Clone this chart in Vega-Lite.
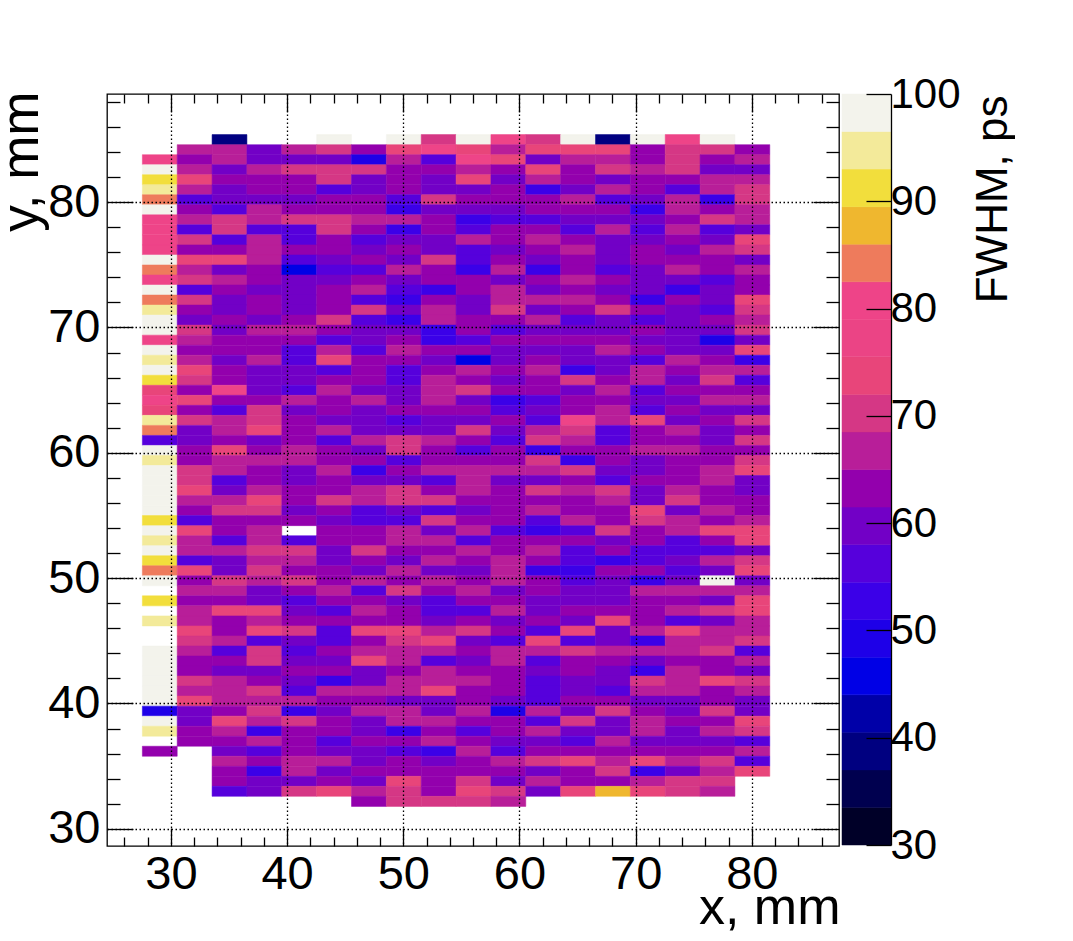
{"$schema":"https://vega.github.io/schema/vega-lite/v6.json","background":"white","padding":{"left":-6,"top":73,"right":0,"bottom":0},"spacing":0,"config":{"view":{"stroke":"black","strokeWidth":1.3},"axis":{"grid":false,"labelFont":"Liberation Sans","titleFont":"Liberation Sans","labelColor":"black","titleColor":"black","tickColor":"black","tickWidth":1.3,"domain":false,"titleFontWeight":"normal"}},"datasets":{"cells":[
{"x":35,"y":85,"v":39},{"x":44,"y":85,"v":98},{"x":50,"y":85,"v":98},{"x":53,"y":85,"v":70},{"x":56,"y":85,"v":98},{"x":59,"y":85,"v":80},{"x":62,"y":85,"v":70},{"x":65,"y":85,"v":98},{"x":68,"y":85,"v":39},{"x":71,"y":85,"v":98},{"x":74,"y":85,"v":80},{"x":77,"y":85,"v":98},
{"x":32,"y":84.2,"v":67},{"x":35,"y":84.2,"v":67},{"x":38,"y":84.2,"v":60},{"x":41,"y":84.2,"v":67},{"x":44,"y":84.2,"v":70},{"x":47,"y":84.2,"v":63},{"x":50,"y":84.2,"v":74},{"x":53,"y":84.2,"v":80},{"x":56,"y":84.2,"v":74},{"x":59,"y":84.2,"v":67},{"x":62,"y":84.2,"v":74},{"x":65,"y":84.2,"v":74},{"x":68,"y":84.2,"v":74},{"x":71,"y":84.2,"v":63},{"x":74,"y":84.2,"v":70},{"x":77,"y":84.2,"v":70},{"x":80,"y":84.2,"v":63},
{"x":29,"y":83.4,"v":80},{"x":32,"y":83.4,"v":63},{"x":35,"y":83.4,"v":67},{"x":38,"y":83.4,"v":60},{"x":41,"y":83.4,"v":60},{"x":44,"y":83.4,"v":60},{"x":47,"y":83.4,"v":49},{"x":50,"y":83.4,"v":67},{"x":53,"y":83.4,"v":56},{"x":56,"y":83.4,"v":80},{"x":59,"y":83.4,"v":74},{"x":62,"y":83.4,"v":60},{"x":65,"y":83.4,"v":67},{"x":68,"y":83.4,"v":67},{"x":71,"y":83.4,"v":63},{"x":74,"y":83.4,"v":70},{"x":77,"y":83.4,"v":63},{"x":80,"y":83.4,"v":67},
{"x":29,"y":82.6,"v":98},{"x":32,"y":82.6,"v":67},{"x":35,"y":82.6,"v":60},{"x":38,"y":82.6,"v":67},{"x":41,"y":82.6,"v":70},{"x":44,"y":82.6,"v":70},{"x":47,"y":82.6,"v":70},{"x":50,"y":82.6,"v":63},{"x":53,"y":82.6,"v":63},{"x":56,"y":82.6,"v":67},{"x":59,"y":82.6,"v":63},{"x":62,"y":82.6,"v":74},{"x":65,"y":82.6,"v":63},{"x":68,"y":82.6,"v":70},{"x":71,"y":82.6,"v":67},{"x":74,"y":82.6,"v":70},{"x":77,"y":82.6,"v":60},{"x":80,"y":82.6,"v":60},
{"x":29,"y":81.8,"v":91},{"x":32,"y":81.8,"v":74},{"x":35,"y":81.8,"v":63},{"x":38,"y":81.8,"v":63},{"x":41,"y":81.8,"v":63},{"x":44,"y":81.8,"v":70},{"x":47,"y":81.8,"v":60},{"x":50,"y":81.8,"v":63},{"x":53,"y":81.8,"v":60},{"x":56,"y":81.8,"v":74},{"x":59,"y":81.8,"v":60},{"x":62,"y":81.8,"v":67},{"x":65,"y":81.8,"v":63},{"x":68,"y":81.8,"v":60},{"x":71,"y":81.8,"v":63},{"x":74,"y":81.8,"v":63},{"x":77,"y":81.8,"v":67},{"x":80,"y":81.8,"v":67},
{"x":29,"y":81,"v":95},{"x":32,"y":81,"v":67},{"x":35,"y":81,"v":60},{"x":38,"y":81,"v":63},{"x":41,"y":81,"v":63},{"x":44,"y":81,"v":56},{"x":47,"y":81,"v":60},{"x":50,"y":81,"v":63},{"x":53,"y":81,"v":60},{"x":56,"y":81,"v":60},{"x":59,"y":81,"v":63},{"x":62,"y":81,"v":53},{"x":65,"y":81,"v":60},{"x":68,"y":81,"v":67},{"x":71,"y":81,"v":63},{"x":74,"y":81,"v":56},{"x":77,"y":81,"v":67},{"x":80,"y":81,"v":70},
{"x":29,"y":80.2,"v":84},{"x":32,"y":80.2,"v":56},{"x":35,"y":80.2,"v":60},{"x":38,"y":80.2,"v":60},{"x":41,"y":80.2,"v":60},{"x":44,"y":80.2,"v":63},{"x":47,"y":80.2,"v":63},{"x":50,"y":80.2,"v":56},{"x":53,"y":80.2,"v":70},{"x":56,"y":80.2,"v":63},{"x":59,"y":80.2,"v":63},{"x":62,"y":80.2,"v":63},{"x":65,"y":80.2,"v":67},{"x":68,"y":80.2,"v":56},{"x":71,"y":80.2,"v":60},{"x":74,"y":80.2,"v":67},{"x":77,"y":80.2,"v":53},{"x":80,"y":80.2,"v":70},
{"x":29,"y":79.4,"v":98},{"x":32,"y":79.4,"v":63},{"x":35,"y":79.4,"v":56},{"x":38,"y":79.4,"v":67},{"x":41,"y":79.4,"v":63},{"x":44,"y":79.4,"v":63},{"x":47,"y":79.4,"v":63},{"x":50,"y":79.4,"v":53},{"x":53,"y":79.4,"v":60},{"x":56,"y":79.4,"v":60},{"x":59,"y":79.4,"v":60},{"x":62,"y":79.4,"v":63},{"x":65,"y":79.4,"v":63},{"x":68,"y":79.4,"v":63},{"x":71,"y":79.4,"v":53},{"x":74,"y":79.4,"v":67},{"x":77,"y":79.4,"v":63},{"x":80,"y":79.4,"v":67},
{"x":29,"y":78.6,"v":80},{"x":32,"y":78.6,"v":67},{"x":35,"y":78.6,"v":70},{"x":38,"y":78.6,"v":67},{"x":41,"y":78.6,"v":70},{"x":44,"y":78.6,"v":70},{"x":47,"y":78.6,"v":67},{"x":50,"y":78.6,"v":67},{"x":53,"y":78.6,"v":63},{"x":56,"y":78.6,"v":53},{"x":59,"y":78.6,"v":56},{"x":62,"y":78.6,"v":56},{"x":65,"y":78.6,"v":60},{"x":68,"y":78.6,"v":60},{"x":71,"y":78.6,"v":60},{"x":74,"y":78.6,"v":63},{"x":77,"y":78.6,"v":70},{"x":80,"y":78.6,"v":67},
{"x":29,"y":77.8,"v":80},{"x":32,"y":77.8,"v":56},{"x":35,"y":77.8,"v":70},{"x":38,"y":77.8,"v":56},{"x":41,"y":77.8,"v":56},{"x":44,"y":77.8,"v":70},{"x":47,"y":77.8,"v":63},{"x":50,"y":77.8,"v":53},{"x":53,"y":77.8,"v":63},{"x":56,"y":77.8,"v":56},{"x":59,"y":77.8,"v":63},{"x":62,"y":77.8,"v":63},{"x":65,"y":77.8,"v":56},{"x":68,"y":77.8,"v":67},{"x":71,"y":77.8,"v":56},{"x":74,"y":77.8,"v":67},{"x":77,"y":77.8,"v":56},{"x":80,"y":77.8,"v":60},
{"x":29,"y":77,"v":80},{"x":32,"y":77,"v":70},{"x":35,"y":77,"v":56},{"x":38,"y":77,"v":67},{"x":41,"y":77,"v":56},{"x":44,"y":77,"v":63},{"x":47,"y":77,"v":56},{"x":50,"y":77,"v":60},{"x":53,"y":77,"v":60},{"x":56,"y":77,"v":67},{"x":59,"y":77,"v":63},{"x":62,"y":77,"v":67},{"x":65,"y":77,"v":63},{"x":68,"y":77,"v":60},{"x":71,"y":77,"v":60},{"x":74,"y":77,"v":63},{"x":77,"y":77,"v":60},{"x":80,"y":77,"v":74},
{"x":29,"y":76.2,"v":80},{"x":32,"y":76.2,"v":63},{"x":35,"y":76.2,"v":63},{"x":38,"y":76.2,"v":67},{"x":41,"y":76.2,"v":63},{"x":44,"y":76.2,"v":63},{"x":47,"y":76.2,"v":60},{"x":50,"y":76.2,"v":63},{"x":53,"y":76.2,"v":60},{"x":56,"y":76.2,"v":56},{"x":59,"y":76.2,"v":60},{"x":62,"y":76.2,"v":63},{"x":65,"y":76.2,"v":67},{"x":68,"y":76.2,"v":60},{"x":71,"y":76.2,"v":63},{"x":74,"y":76.2,"v":60},{"x":77,"y":76.2,"v":67},{"x":80,"y":76.2,"v":70},
{"x":29,"y":75.4,"v":98},{"x":32,"y":75.4,"v":74},{"x":35,"y":75.4,"v":74},{"x":38,"y":75.4,"v":67},{"x":41,"y":75.4,"v":56},{"x":44,"y":75.4,"v":60},{"x":47,"y":75.4,"v":63},{"x":50,"y":75.4,"v":60},{"x":53,"y":75.4,"v":70},{"x":56,"y":75.4,"v":56},{"x":59,"y":75.4,"v":63},{"x":62,"y":75.4,"v":60},{"x":65,"y":75.4,"v":63},{"x":68,"y":75.4,"v":60},{"x":71,"y":75.4,"v":63},{"x":74,"y":75.4,"v":63},{"x":77,"y":75.4,"v":63},{"x":80,"y":75.4,"v":60},
{"x":29,"y":74.6,"v":84},{"x":32,"y":74.6,"v":67},{"x":35,"y":74.6,"v":60},{"x":38,"y":74.6,"v":63},{"x":41,"y":74.6,"v":46},{"x":44,"y":74.6,"v":56},{"x":47,"y":74.6,"v":56},{"x":50,"y":74.6,"v":67},{"x":53,"y":74.6,"v":63},{"x":56,"y":74.6,"v":53},{"x":59,"y":74.6,"v":67},{"x":62,"y":74.6,"v":53},{"x":65,"y":74.6,"v":63},{"x":68,"y":74.6,"v":56},{"x":71,"y":74.6,"v":60},{"x":74,"y":74.6,"v":67},{"x":77,"y":74.6,"v":63},{"x":80,"y":74.6,"v":67},
{"x":29,"y":73.8,"v":80},{"x":32,"y":73.8,"v":70},{"x":35,"y":73.8,"v":67},{"x":38,"y":73.8,"v":63},{"x":41,"y":73.8,"v":60},{"x":44,"y":73.8,"v":60},{"x":47,"y":73.8,"v":63},{"x":50,"y":73.8,"v":60},{"x":53,"y":73.8,"v":63},{"x":56,"y":73.8,"v":63},{"x":59,"y":73.8,"v":60},{"x":62,"y":73.8,"v":63},{"x":65,"y":73.8,"v":67},{"x":68,"y":73.8,"v":63},{"x":71,"y":73.8,"v":60},{"x":74,"y":73.8,"v":60},{"x":77,"y":73.8,"v":56},{"x":80,"y":73.8,"v":63},
{"x":29,"y":73,"v":98},{"x":32,"y":73,"v":56},{"x":35,"y":73,"v":63},{"x":38,"y":73,"v":60},{"x":41,"y":73,"v":60},{"x":44,"y":73,"v":63},{"x":47,"y":73,"v":67},{"x":50,"y":73,"v":56},{"x":53,"y":73,"v":53},{"x":56,"y":73,"v":63},{"x":59,"y":73,"v":67},{"x":62,"y":73,"v":60},{"x":65,"y":73,"v":63},{"x":68,"y":73,"v":60},{"x":71,"y":73,"v":60},{"x":74,"y":73,"v":53},{"x":77,"y":73,"v":60},{"x":80,"y":73,"v":63},
{"x":29,"y":72.2,"v":84},{"x":32,"y":72.2,"v":70},{"x":35,"y":72.2,"v":60},{"x":38,"y":72.2,"v":63},{"x":41,"y":72.2,"v":60},{"x":44,"y":72.2,"v":63},{"x":47,"y":72.2,"v":56},{"x":50,"y":72.2,"v":53},{"x":53,"y":72.2,"v":63},{"x":56,"y":72.2,"v":60},{"x":59,"y":72.2,"v":67},{"x":62,"y":72.2,"v":67},{"x":65,"y":72.2,"v":67},{"x":68,"y":72.2,"v":63},{"x":71,"y":72.2,"v":53},{"x":74,"y":72.2,"v":63},{"x":77,"y":72.2,"v":60},{"x":80,"y":72.2,"v":74},
{"x":29,"y":71.4,"v":95},{"x":32,"y":71.4,"v":63},{"x":35,"y":71.4,"v":60},{"x":38,"y":71.4,"v":63},{"x":41,"y":71.4,"v":60},{"x":44,"y":71.4,"v":63},{"x":47,"y":71.4,"v":70},{"x":50,"y":71.4,"v":60},{"x":53,"y":71.4,"v":67},{"x":56,"y":71.4,"v":60},{"x":59,"y":71.4,"v":70},{"x":62,"y":71.4,"v":60},{"x":65,"y":71.4,"v":63},{"x":68,"y":71.4,"v":70},{"x":71,"y":71.4,"v":63},{"x":74,"y":71.4,"v":60},{"x":77,"y":71.4,"v":56},{"x":80,"y":71.4,"v":70},
{"x":29,"y":70.6,"v":98},{"x":32,"y":70.6,"v":60},{"x":35,"y":70.6,"v":63},{"x":38,"y":70.6,"v":60},{"x":41,"y":70.6,"v":63},{"x":44,"y":70.6,"v":70},{"x":47,"y":70.6,"v":56},{"x":50,"y":70.6,"v":53},{"x":53,"y":70.6,"v":67},{"x":56,"y":70.6,"v":63},{"x":59,"y":70.6,"v":63},{"x":62,"y":70.6,"v":67},{"x":65,"y":70.6,"v":56},{"x":68,"y":70.6,"v":60},{"x":71,"y":70.6,"v":56},{"x":74,"y":70.6,"v":60},{"x":77,"y":70.6,"v":63},{"x":80,"y":70.6,"v":67},
{"x":29,"y":69.8,"v":98},{"x":32,"y":69.8,"v":70},{"x":35,"y":69.8,"v":60},{"x":38,"y":69.8,"v":67},{"x":41,"y":69.8,"v":67},{"x":44,"y":69.8,"v":63},{"x":47,"y":69.8,"v":60},{"x":50,"y":69.8,"v":60},{"x":53,"y":69.8,"v":53},{"x":56,"y":69.8,"v":63},{"x":59,"y":69.8,"v":56},{"x":62,"y":69.8,"v":60},{"x":65,"y":69.8,"v":60},{"x":68,"y":69.8,"v":60},{"x":71,"y":69.8,"v":63},{"x":74,"y":69.8,"v":60},{"x":77,"y":69.8,"v":60},{"x":80,"y":69.8,"v":70},
{"x":29,"y":69,"v":80},{"x":32,"y":69,"v":67},{"x":35,"y":69,"v":63},{"x":38,"y":69,"v":63},{"x":41,"y":69,"v":63},{"x":44,"y":69,"v":56},{"x":47,"y":69,"v":60},{"x":50,"y":69,"v":63},{"x":53,"y":69,"v":53},{"x":56,"y":69,"v":56},{"x":59,"y":69,"v":63},{"x":62,"y":69,"v":63},{"x":65,"y":69,"v":63},{"x":68,"y":69,"v":63},{"x":71,"y":69,"v":60},{"x":74,"y":69,"v":60},{"x":77,"y":69,"v":49},{"x":80,"y":69,"v":60},
{"x":29,"y":68.2,"v":98},{"x":32,"y":68.2,"v":63},{"x":35,"y":68.2,"v":63},{"x":38,"y":68.2,"v":63},{"x":41,"y":68.2,"v":56},{"x":44,"y":68.2,"v":67},{"x":47,"y":68.2,"v":56},{"x":50,"y":68.2,"v":67},{"x":53,"y":68.2,"v":63},{"x":56,"y":68.2,"v":63},{"x":59,"y":68.2,"v":60},{"x":62,"y":68.2,"v":60},{"x":65,"y":68.2,"v":60},{"x":68,"y":68.2,"v":67},{"x":71,"y":68.2,"v":63},{"x":74,"y":68.2,"v":60},{"x":77,"y":68.2,"v":60},{"x":80,"y":68.2,"v":74},
{"x":29,"y":67.4,"v":95},{"x":32,"y":67.4,"v":67},{"x":35,"y":67.4,"v":60},{"x":38,"y":67.4,"v":67},{"x":41,"y":67.4,"v":56},{"x":44,"y":67.4,"v":74},{"x":47,"y":67.4,"v":63},{"x":50,"y":67.4,"v":63},{"x":53,"y":67.4,"v":60},{"x":56,"y":67.4,"v":46},{"x":59,"y":67.4,"v":60},{"x":62,"y":67.4,"v":63},{"x":65,"y":67.4,"v":60},{"x":68,"y":67.4,"v":60},{"x":71,"y":67.4,"v":56},{"x":74,"y":67.4,"v":67},{"x":77,"y":67.4,"v":63},{"x":80,"y":67.4,"v":53},
{"x":29,"y":66.6,"v":98},{"x":32,"y":66.6,"v":74},{"x":35,"y":66.6,"v":63},{"x":38,"y":66.6,"v":60},{"x":41,"y":66.6,"v":60},{"x":44,"y":66.6,"v":56},{"x":47,"y":66.6,"v":63},{"x":50,"y":66.6,"v":56},{"x":53,"y":66.6,"v":63},{"x":56,"y":66.6,"v":67},{"x":59,"y":66.6,"v":63},{"x":62,"y":66.6,"v":67},{"x":65,"y":66.6,"v":53},{"x":68,"y":66.6,"v":60},{"x":71,"y":66.6,"v":67},{"x":74,"y":66.6,"v":63},{"x":77,"y":66.6,"v":67},{"x":80,"y":66.6,"v":67},
{"x":29,"y":65.8,"v":91},{"x":32,"y":65.8,"v":70},{"x":35,"y":65.8,"v":63},{"x":38,"y":65.8,"v":60},{"x":41,"y":65.8,"v":60},{"x":44,"y":65.8,"v":63},{"x":47,"y":65.8,"v":63},{"x":50,"y":65.8,"v":56},{"x":53,"y":65.8,"v":67},{"x":56,"y":65.8,"v":63},{"x":59,"y":65.8,"v":60},{"x":62,"y":65.8,"v":63},{"x":65,"y":65.8,"v":70},{"x":68,"y":65.8,"v":63},{"x":71,"y":65.8,"v":67},{"x":74,"y":65.8,"v":60},{"x":77,"y":65.8,"v":70},{"x":80,"y":65.8,"v":56},
{"x":29,"y":65,"v":74},{"x":32,"y":65,"v":63},{"x":35,"y":65,"v":80},{"x":38,"y":65,"v":60},{"x":41,"y":65,"v":56},{"x":44,"y":65,"v":67},{"x":47,"y":65,"v":60},{"x":50,"y":65,"v":60},{"x":53,"y":65,"v":67},{"x":56,"y":65,"v":70},{"x":59,"y":65,"v":63},{"x":62,"y":65,"v":63},{"x":65,"y":65,"v":60},{"x":68,"y":65,"v":67},{"x":71,"y":65,"v":56},{"x":74,"y":65,"v":63},{"x":77,"y":65,"v":63},{"x":80,"y":65,"v":63},
{"x":29,"y":64.2,"v":80},{"x":32,"y":64.2,"v":74},{"x":35,"y":64.2,"v":63},{"x":38,"y":64.2,"v":63},{"x":41,"y":64.2,"v":67},{"x":44,"y":64.2,"v":63},{"x":47,"y":64.2,"v":67},{"x":50,"y":64.2,"v":60},{"x":53,"y":64.2,"v":67},{"x":56,"y":64.2,"v":60},{"x":59,"y":64.2,"v":53},{"x":62,"y":64.2,"v":56},{"x":65,"y":64.2,"v":63},{"x":68,"y":64.2,"v":63},{"x":71,"y":64.2,"v":60},{"x":74,"y":64.2,"v":60},{"x":77,"y":64.2,"v":67},{"x":80,"y":64.2,"v":67},
{"x":29,"y":63.4,"v":74},{"x":32,"y":63.4,"v":63},{"x":35,"y":63.4,"v":56},{"x":38,"y":63.4,"v":70},{"x":41,"y":63.4,"v":60},{"x":44,"y":63.4,"v":63},{"x":47,"y":63.4,"v":60},{"x":50,"y":63.4,"v":63},{"x":53,"y":63.4,"v":63},{"x":56,"y":63.4,"v":63},{"x":59,"y":63.4,"v":56},{"x":62,"y":63.4,"v":60},{"x":65,"y":63.4,"v":63},{"x":68,"y":63.4,"v":67},{"x":71,"y":63.4,"v":56},{"x":74,"y":63.4,"v":63},{"x":77,"y":63.4,"v":60},{"x":80,"y":63.4,"v":60},
{"x":29,"y":62.6,"v":95},{"x":32,"y":62.6,"v":70},{"x":35,"y":62.6,"v":67},{"x":38,"y":62.6,"v":70},{"x":41,"y":62.6,"v":63},{"x":44,"y":62.6,"v":60},{"x":47,"y":62.6,"v":60},{"x":50,"y":62.6,"v":56},{"x":53,"y":62.6,"v":60},{"x":56,"y":62.6,"v":60},{"x":59,"y":62.6,"v":63},{"x":62,"y":62.6,"v":56},{"x":65,"y":62.6,"v":80},{"x":68,"y":62.6,"v":67},{"x":71,"y":62.6,"v":74},{"x":74,"y":62.6,"v":60},{"x":77,"y":62.6,"v":63},{"x":80,"y":62.6,"v":70},
{"x":29,"y":61.8,"v":84},{"x":32,"y":61.8,"v":60},{"x":35,"y":61.8,"v":67},{"x":38,"y":61.8,"v":74},{"x":41,"y":61.8,"v":63},{"x":44,"y":61.8,"v":67},{"x":47,"y":61.8,"v":60},{"x":50,"y":61.8,"v":60},{"x":53,"y":61.8,"v":60},{"x":56,"y":61.8,"v":70},{"x":59,"y":61.8,"v":60},{"x":62,"y":61.8,"v":67},{"x":65,"y":61.8,"v":70},{"x":68,"y":61.8,"v":56},{"x":71,"y":61.8,"v":63},{"x":74,"y":61.8,"v":67},{"x":77,"y":61.8,"v":60},{"x":80,"y":61.8,"v":63},
{"x":29,"y":61,"v":56},{"x":32,"y":61,"v":60},{"x":35,"y":61,"v":63},{"x":38,"y":61,"v":60},{"x":41,"y":61,"v":63},{"x":44,"y":61,"v":56},{"x":47,"y":61,"v":67},{"x":50,"y":61,"v":70},{"x":53,"y":61,"v":67},{"x":56,"y":61,"v":63},{"x":59,"y":61,"v":56},{"x":62,"y":61,"v":70},{"x":65,"y":61,"v":67},{"x":68,"y":61,"v":56},{"x":71,"y":61,"v":63},{"x":74,"y":61,"v":63},{"x":77,"y":61,"v":60},{"x":80,"y":61,"v":70},
{"x":29,"y":60.2,"v":98},{"x":32,"y":60.2,"v":63},{"x":35,"y":60.2,"v":74},{"x":38,"y":60.2,"v":63},{"x":41,"y":60.2,"v":67},{"x":44,"y":60.2,"v":63},{"x":47,"y":60.2,"v":60},{"x":50,"y":60.2,"v":70},{"x":53,"y":60.2,"v":63},{"x":56,"y":60.2,"v":56},{"x":59,"y":60.2,"v":63},{"x":62,"y":60.2,"v":53},{"x":65,"y":60.2,"v":63},{"x":68,"y":60.2,"v":63},{"x":71,"y":60.2,"v":67},{"x":74,"y":60.2,"v":67},{"x":77,"y":60.2,"v":63},{"x":80,"y":60.2,"v":63},
{"x":29,"y":59.4,"v":95},{"x":32,"y":59.4,"v":63},{"x":35,"y":59.4,"v":67},{"x":38,"y":59.4,"v":67},{"x":41,"y":59.4,"v":67},{"x":44,"y":59.4,"v":63},{"x":47,"y":59.4,"v":63},{"x":50,"y":59.4,"v":56},{"x":53,"y":59.4,"v":63},{"x":56,"y":59.4,"v":63},{"x":59,"y":59.4,"v":63},{"x":62,"y":59.4,"v":70},{"x":65,"y":59.4,"v":53},{"x":68,"y":59.4,"v":63},{"x":71,"y":59.4,"v":60},{"x":74,"y":59.4,"v":63},{"x":77,"y":59.4,"v":63},{"x":80,"y":59.4,"v":70},
{"x":29,"y":58.6,"v":98},{"x":32,"y":58.6,"v":70},{"x":35,"y":58.6,"v":67},{"x":38,"y":58.6,"v":63},{"x":41,"y":58.6,"v":60},{"x":44,"y":58.6,"v":67},{"x":47,"y":58.6,"v":53},{"x":50,"y":58.6,"v":63},{"x":53,"y":58.6,"v":67},{"x":56,"y":58.6,"v":67},{"x":59,"y":58.6,"v":67},{"x":62,"y":58.6,"v":67},{"x":65,"y":58.6,"v":70},{"x":68,"y":58.6,"v":60},{"x":71,"y":58.6,"v":60},{"x":74,"y":58.6,"v":63},{"x":77,"y":58.6,"v":67},{"x":80,"y":58.6,"v":74},
{"x":29,"y":57.8,"v":98},{"x":32,"y":57.8,"v":70},{"x":35,"y":57.8,"v":56},{"x":38,"y":57.8,"v":63},{"x":41,"y":57.8,"v":60},{"x":44,"y":57.8,"v":63},{"x":47,"y":57.8,"v":60},{"x":50,"y":57.8,"v":60},{"x":53,"y":57.8,"v":56},{"x":56,"y":57.8,"v":67},{"x":59,"y":57.8,"v":60},{"x":62,"y":57.8,"v":60},{"x":65,"y":57.8,"v":63},{"x":68,"y":57.8,"v":56},{"x":71,"y":57.8,"v":63},{"x":74,"y":57.8,"v":63},{"x":77,"y":57.8,"v":67},{"x":80,"y":57.8,"v":60},
{"x":29,"y":57,"v":98},{"x":32,"y":57,"v":74},{"x":35,"y":57,"v":60},{"x":38,"y":57,"v":67},{"x":41,"y":57,"v":63},{"x":44,"y":57,"v":63},{"x":47,"y":57,"v":67},{"x":50,"y":57,"v":70},{"x":53,"y":57,"v":63},{"x":56,"y":57,"v":67},{"x":59,"y":57,"v":63},{"x":62,"y":57,"v":70},{"x":65,"y":57,"v":67},{"x":68,"y":57,"v":70},{"x":71,"y":57,"v":60},{"x":74,"y":57,"v":67},{"x":77,"y":57,"v":63},{"x":80,"y":57,"v":60},
{"x":29,"y":56.2,"v":98},{"x":32,"y":56.2,"v":67},{"x":35,"y":56.2,"v":67},{"x":38,"y":56.2,"v":74},{"x":41,"y":56.2,"v":63},{"x":44,"y":56.2,"v":70},{"x":47,"y":56.2,"v":67},{"x":50,"y":56.2,"v":70},{"x":53,"y":56.2,"v":70},{"x":56,"y":56.2,"v":63},{"x":59,"y":56.2,"v":63},{"x":62,"y":56.2,"v":63},{"x":65,"y":56.2,"v":63},{"x":68,"y":56.2,"v":67},{"x":71,"y":56.2,"v":60},{"x":74,"y":56.2,"v":70},{"x":77,"y":56.2,"v":63},{"x":80,"y":56.2,"v":63},
{"x":29,"y":55.4,"v":98},{"x":32,"y":55.4,"v":63},{"x":35,"y":55.4,"v":70},{"x":38,"y":55.4,"v":70},{"x":41,"y":55.4,"v":60},{"x":44,"y":55.4,"v":63},{"x":47,"y":55.4,"v":56},{"x":50,"y":55.4,"v":60},{"x":53,"y":55.4,"v":56},{"x":56,"y":55.4,"v":60},{"x":59,"y":55.4,"v":63},{"x":62,"y":55.4,"v":67},{"x":65,"y":55.4,"v":63},{"x":68,"y":55.4,"v":63},{"x":71,"y":55.4,"v":74},{"x":74,"y":55.4,"v":60},{"x":77,"y":55.4,"v":67},{"x":80,"y":55.4,"v":63},
{"x":29,"y":54.6,"v":91},{"x":32,"y":54.6,"v":56},{"x":35,"y":54.6,"v":63},{"x":38,"y":54.6,"v":63},{"x":41,"y":54.6,"v":63},{"x":44,"y":54.6,"v":60},{"x":47,"y":54.6,"v":56},{"x":50,"y":54.6,"v":56},{"x":53,"y":54.6,"v":70},{"x":56,"y":54.6,"v":63},{"x":59,"y":54.6,"v":63},{"x":62,"y":54.6,"v":56},{"x":65,"y":54.6,"v":67},{"x":68,"y":54.6,"v":63},{"x":71,"y":54.6,"v":70},{"x":74,"y":54.6,"v":67},{"x":77,"y":54.6,"v":63},{"x":80,"y":54.6,"v":67},
{"x":29,"y":53.8,"v":98},{"x":32,"y":53.8,"v":74},{"x":35,"y":53.8,"v":63},{"x":38,"y":53.8,"v":67},{"x":44,"y":53.8,"v":63},{"x":47,"y":53.8,"v":63},{"x":50,"y":53.8,"v":67},{"x":53,"y":53.8,"v":60},{"x":56,"y":53.8,"v":67},{"x":59,"y":53.8,"v":56},{"x":62,"y":53.8,"v":53},{"x":65,"y":53.8,"v":56},{"x":68,"y":53.8,"v":70},{"x":71,"y":53.8,"v":63},{"x":74,"y":53.8,"v":67},{"x":77,"y":53.8,"v":74},{"x":80,"y":53.8,"v":74},
{"x":29,"y":53,"v":95},{"x":32,"y":53,"v":67},{"x":35,"y":53,"v":56},{"x":38,"y":53,"v":67},{"x":41,"y":53,"v":56},{"x":44,"y":53,"v":63},{"x":47,"y":53,"v":63},{"x":50,"y":53,"v":67},{"x":53,"y":53,"v":67},{"x":56,"y":53,"v":56},{"x":59,"y":53,"v":63},{"x":62,"y":53,"v":63},{"x":65,"y":53,"v":63},{"x":68,"y":53,"v":60},{"x":71,"y":53,"v":63},{"x":74,"y":53,"v":56},{"x":77,"y":53,"v":63},{"x":80,"y":53,"v":74},
{"x":29,"y":52.2,"v":98},{"x":32,"y":52.2,"v":67},{"x":35,"y":52.2,"v":67},{"x":38,"y":52.2,"v":70},{"x":41,"y":52.2,"v":70},{"x":44,"y":52.2,"v":60},{"x":47,"y":52.2,"v":70},{"x":50,"y":52.2,"v":63},{"x":53,"y":52.2,"v":63},{"x":56,"y":52.2,"v":67},{"x":59,"y":52.2,"v":63},{"x":62,"y":52.2,"v":67},{"x":65,"y":52.2,"v":56},{"x":68,"y":52.2,"v":63},{"x":71,"y":52.2,"v":56},{"x":74,"y":52.2,"v":56},{"x":77,"y":52.2,"v":56},{"x":80,"y":52.2,"v":60},
{"x":29,"y":51.4,"v":91},{"x":32,"y":51.4,"v":56},{"x":35,"y":51.4,"v":60},{"x":38,"y":51.4,"v":67},{"x":41,"y":51.4,"v":67},{"x":44,"y":51.4,"v":60},{"x":47,"y":51.4,"v":63},{"x":50,"y":51.4,"v":60},{"x":53,"y":51.4,"v":67},{"x":56,"y":51.4,"v":63},{"x":59,"y":51.4,"v":67},{"x":62,"y":51.4,"v":63},{"x":65,"y":51.4,"v":56},{"x":68,"y":51.4,"v":53},{"x":71,"y":51.4,"v":56},{"x":74,"y":51.4,"v":60},{"x":77,"y":51.4,"v":67},{"x":80,"y":51.4,"v":70},
{"x":29,"y":50.6,"v":84},{"x":32,"y":50.6,"v":74},{"x":35,"y":50.6,"v":60},{"x":38,"y":50.6,"v":70},{"x":41,"y":50.6,"v":63},{"x":44,"y":50.6,"v":63},{"x":47,"y":50.6,"v":60},{"x":50,"y":50.6,"v":67},{"x":53,"y":50.6,"v":60},{"x":56,"y":50.6,"v":60},{"x":59,"y":50.6,"v":67},{"x":62,"y":50.6,"v":53},{"x":65,"y":50.6,"v":53},{"x":68,"y":50.6,"v":63},{"x":71,"y":50.6,"v":63},{"x":74,"y":50.6,"v":56},{"x":77,"y":50.6,"v":60},{"x":80,"y":50.6,"v":74},
{"x":29,"y":49.8,"v":98},{"x":32,"y":49.8,"v":63},{"x":35,"y":49.8,"v":70},{"x":38,"y":49.8,"v":67},{"x":41,"y":49.8,"v":70},{"x":44,"y":49.8,"v":63},{"x":47,"y":49.8,"v":67},{"x":50,"y":49.8,"v":63},{"x":53,"y":49.8,"v":67},{"x":56,"y":49.8,"v":63},{"x":59,"y":49.8,"v":67},{"x":62,"y":49.8,"v":63},{"x":65,"y":49.8,"v":56},{"x":68,"y":49.8,"v":60},{"x":71,"y":49.8,"v":53},{"x":74,"y":49.8,"v":60},{"x":77,"y":49.8,"v":98},{"x":80,"y":49.8,"v":60},
{"x":32,"y":49,"v":67},{"x":35,"y":49,"v":67},{"x":38,"y":49,"v":60},{"x":41,"y":49,"v":63},{"x":44,"y":49,"v":67},{"x":47,"y":49,"v":56},{"x":50,"y":49,"v":70},{"x":53,"y":49,"v":63},{"x":56,"y":49,"v":67},{"x":59,"y":49,"v":60},{"x":62,"y":49,"v":63},{"x":65,"y":49,"v":60},{"x":68,"y":49,"v":60},{"x":71,"y":49,"v":67},{"x":74,"y":49,"v":67},{"x":77,"y":49,"v":67},{"x":80,"y":49,"v":67},
{"x":29,"y":48.2,"v":91},{"x":32,"y":48.2,"v":63},{"x":35,"y":48.2,"v":63},{"x":38,"y":48.2,"v":60},{"x":41,"y":48.2,"v":56},{"x":44,"y":48.2,"v":63},{"x":47,"y":48.2,"v":63},{"x":50,"y":48.2,"v":60},{"x":53,"y":48.2,"v":56},{"x":56,"y":48.2,"v":63},{"x":59,"y":48.2,"v":63},{"x":62,"y":48.2,"v":60},{"x":65,"y":48.2,"v":60},{"x":68,"y":48.2,"v":60},{"x":71,"y":48.2,"v":63},{"x":74,"y":48.2,"v":63},{"x":77,"y":48.2,"v":60},{"x":80,"y":48.2,"v":74},
{"x":32,"y":47.4,"v":67},{"x":35,"y":47.4,"v":74},{"x":38,"y":47.4,"v":74},{"x":41,"y":47.4,"v":60},{"x":44,"y":47.4,"v":56},{"x":47,"y":47.4,"v":67},{"x":50,"y":47.4,"v":63},{"x":53,"y":47.4,"v":56},{"x":56,"y":47.4,"v":56},{"x":59,"y":47.4,"v":67},{"x":62,"y":47.4,"v":60},{"x":65,"y":47.4,"v":63},{"x":68,"y":47.4,"v":63},{"x":71,"y":47.4,"v":63},{"x":74,"y":47.4,"v":67},{"x":77,"y":47.4,"v":70},{"x":80,"y":47.4,"v":74},
{"x":29,"y":46.6,"v":95},{"x":32,"y":46.6,"v":67},{"x":35,"y":46.6,"v":63},{"x":38,"y":46.6,"v":67},{"x":41,"y":46.6,"v":63},{"x":44,"y":46.6,"v":63},{"x":47,"y":46.6,"v":63},{"x":50,"y":46.6,"v":63},{"x":53,"y":46.6,"v":60},{"x":56,"y":46.6,"v":63},{"x":59,"y":46.6,"v":60},{"x":62,"y":46.6,"v":63},{"x":65,"y":46.6,"v":60},{"x":68,"y":46.6,"v":74},{"x":71,"y":46.6,"v":63},{"x":74,"y":46.6,"v":56},{"x":77,"y":46.6,"v":60},{"x":80,"y":46.6,"v":67},
{"x":32,"y":45.8,"v":74},{"x":35,"y":45.8,"v":63},{"x":38,"y":45.8,"v":74},{"x":41,"y":45.8,"v":70},{"x":44,"y":45.8,"v":56},{"x":47,"y":45.8,"v":74},{"x":50,"y":45.8,"v":74},{"x":53,"y":45.8,"v":67},{"x":56,"y":45.8,"v":70},{"x":59,"y":45.8,"v":63},{"x":62,"y":45.8,"v":56},{"x":65,"y":45.8,"v":74},{"x":68,"y":45.8,"v":60},{"x":71,"y":45.8,"v":67},{"x":74,"y":45.8,"v":74},{"x":77,"y":45.8,"v":67},{"x":80,"y":45.8,"v":67},
{"x":32,"y":45,"v":70},{"x":35,"y":45,"v":67},{"x":38,"y":45,"v":56},{"x":41,"y":45,"v":60},{"x":44,"y":45,"v":56},{"x":47,"y":45,"v":63},{"x":50,"y":45,"v":70},{"x":53,"y":45,"v":74},{"x":56,"y":45,"v":60},{"x":59,"y":45,"v":56},{"x":62,"y":45,"v":74},{"x":65,"y":45,"v":56},{"x":68,"y":45,"v":60},{"x":71,"y":45,"v":53},{"x":74,"y":45,"v":67},{"x":77,"y":45,"v":67},{"x":80,"y":45,"v":70},
{"x":29,"y":44.2,"v":98},{"x":32,"y":44.2,"v":67},{"x":35,"y":44.2,"v":56},{"x":38,"y":44.2,"v":70},{"x":41,"y":44.2,"v":56},{"x":44,"y":44.2,"v":63},{"x":47,"y":44.2,"v":67},{"x":50,"y":44.2,"v":67},{"x":53,"y":44.2,"v":67},{"x":56,"y":44.2,"v":63},{"x":59,"y":44.2,"v":67},{"x":62,"y":44.2,"v":67},{"x":65,"y":44.2,"v":70},{"x":68,"y":44.2,"v":67},{"x":71,"y":44.2,"v":67},{"x":74,"y":44.2,"v":67},{"x":77,"y":44.2,"v":70},{"x":80,"y":44.2,"v":56},
{"x":29,"y":43.4,"v":98},{"x":32,"y":43.4,"v":63},{"x":35,"y":43.4,"v":63},{"x":38,"y":43.4,"v":70},{"x":41,"y":43.4,"v":60},{"x":44,"y":43.4,"v":60},{"x":47,"y":43.4,"v":74},{"x":50,"y":43.4,"v":67},{"x":53,"y":43.4,"v":56},{"x":56,"y":43.4,"v":60},{"x":59,"y":43.4,"v":67},{"x":62,"y":43.4,"v":56},{"x":65,"y":43.4,"v":63},{"x":68,"y":43.4,"v":63},{"x":71,"y":43.4,"v":60},{"x":74,"y":43.4,"v":63},{"x":77,"y":43.4,"v":63},{"x":80,"y":43.4,"v":67},
{"x":29,"y":42.6,"v":98},{"x":32,"y":42.6,"v":63},{"x":35,"y":42.6,"v":60},{"x":38,"y":42.6,"v":60},{"x":41,"y":42.6,"v":63},{"x":44,"y":42.6,"v":63},{"x":47,"y":42.6,"v":60},{"x":50,"y":42.6,"v":63},{"x":53,"y":42.6,"v":67},{"x":56,"y":42.6,"v":63},{"x":59,"y":42.6,"v":63},{"x":62,"y":42.6,"v":60},{"x":65,"y":42.6,"v":63},{"x":68,"y":42.6,"v":60},{"x":71,"y":42.6,"v":53},{"x":74,"y":42.6,"v":67},{"x":77,"y":42.6,"v":63},{"x":80,"y":42.6,"v":60},
{"x":29,"y":41.8,"v":98},{"x":32,"y":41.8,"v":70},{"x":35,"y":41.8,"v":67},{"x":38,"y":41.8,"v":63},{"x":41,"y":41.8,"v":60},{"x":44,"y":41.8,"v":53},{"x":47,"y":41.8,"v":60},{"x":50,"y":41.8,"v":67},{"x":53,"y":41.8,"v":67},{"x":56,"y":41.8,"v":67},{"x":59,"y":41.8,"v":63},{"x":62,"y":41.8,"v":56},{"x":65,"y":41.8,"v":60},{"x":68,"y":41.8,"v":60},{"x":71,"y":41.8,"v":70},{"x":74,"y":41.8,"v":67},{"x":77,"y":41.8,"v":74},{"x":80,"y":41.8,"v":70},
{"x":29,"y":41,"v":98},{"x":32,"y":41,"v":67},{"x":35,"y":41,"v":67},{"x":38,"y":41,"v":70},{"x":41,"y":41,"v":56},{"x":44,"y":41,"v":67},{"x":47,"y":41,"v":67},{"x":50,"y":41,"v":67},{"x":53,"y":41,"v":74},{"x":56,"y":41,"v":63},{"x":59,"y":41,"v":63},{"x":62,"y":41,"v":56},{"x":65,"y":41,"v":60},{"x":68,"y":41,"v":56},{"x":71,"y":41,"v":67},{"x":74,"y":41,"v":67},{"x":77,"y":41,"v":63},{"x":80,"y":41,"v":67},
{"x":29,"y":40.2,"v":98},{"x":32,"y":40.2,"v":74},{"x":35,"y":40.2,"v":67},{"x":38,"y":40.2,"v":67},{"x":41,"y":40.2,"v":67},{"x":44,"y":40.2,"v":63},{"x":47,"y":40.2,"v":63},{"x":50,"y":40.2,"v":60},{"x":53,"y":40.2,"v":60},{"x":56,"y":40.2,"v":63},{"x":59,"y":40.2,"v":60},{"x":62,"y":40.2,"v":56},{"x":65,"y":40.2,"v":63},{"x":68,"y":40.2,"v":63},{"x":71,"y":40.2,"v":60},{"x":74,"y":40.2,"v":60},{"x":77,"y":40.2,"v":63},{"x":80,"y":40.2,"v":60},
{"x":29,"y":39.4,"v":49},{"x":32,"y":39.4,"v":60},{"x":35,"y":39.4,"v":63},{"x":38,"y":39.4,"v":70},{"x":41,"y":39.4,"v":53},{"x":44,"y":39.4,"v":60},{"x":47,"y":39.4,"v":67},{"x":50,"y":39.4,"v":67},{"x":53,"y":39.4,"v":60},{"x":56,"y":39.4,"v":67},{"x":59,"y":39.4,"v":49},{"x":62,"y":39.4,"v":67},{"x":65,"y":39.4,"v":60},{"x":68,"y":39.4,"v":70},{"x":71,"y":39.4,"v":63},{"x":74,"y":39.4,"v":60},{"x":77,"y":39.4,"v":70},{"x":80,"y":39.4,"v":60},
{"x":29,"y":38.6,"v":98},{"x":32,"y":38.6,"v":60},{"x":35,"y":38.6,"v":74},{"x":38,"y":38.6,"v":67},{"x":41,"y":38.6,"v":70},{"x":44,"y":38.6,"v":63},{"x":47,"y":38.6,"v":60},{"x":50,"y":38.6,"v":67},{"x":53,"y":38.6,"v":67},{"x":56,"y":38.6,"v":63},{"x":59,"y":38.6,"v":63},{"x":62,"y":38.6,"v":56},{"x":65,"y":38.6,"v":70},{"x":68,"y":38.6,"v":60},{"x":71,"y":38.6,"v":67},{"x":74,"y":38.6,"v":63},{"x":77,"y":38.6,"v":63},{"x":80,"y":38.6,"v":74},
{"x":29,"y":37.8,"v":95},{"x":32,"y":37.8,"v":63},{"x":35,"y":37.8,"v":67},{"x":38,"y":37.8,"v":53},{"x":41,"y":37.8,"v":63},{"x":44,"y":37.8,"v":63},{"x":47,"y":37.8,"v":60},{"x":50,"y":37.8,"v":53},{"x":53,"y":37.8,"v":63},{"x":56,"y":37.8,"v":56},{"x":59,"y":37.8,"v":63},{"x":62,"y":37.8,"v":67},{"x":65,"y":37.8,"v":60},{"x":68,"y":37.8,"v":60},{"x":71,"y":37.8,"v":67},{"x":74,"y":37.8,"v":60},{"x":77,"y":37.8,"v":67},{"x":80,"y":37.8,"v":70},
{"x":32,"y":37,"v":63},{"x":35,"y":37,"v":63},{"x":38,"y":37,"v":67},{"x":41,"y":37,"v":63},{"x":44,"y":37,"v":56},{"x":47,"y":37,"v":63},{"x":50,"y":37,"v":63},{"x":53,"y":37,"v":67},{"x":56,"y":37,"v":63},{"x":59,"y":37,"v":60},{"x":62,"y":37,"v":60},{"x":65,"y":37,"v":56},{"x":68,"y":37,"v":67},{"x":71,"y":37,"v":60},{"x":74,"y":37,"v":60},{"x":77,"y":37,"v":60},{"x":80,"y":37,"v":56},
{"x":29,"y":36.2,"v":63},{"x":35,"y":36.2,"v":60},{"x":38,"y":36.2,"v":56},{"x":41,"y":36.2,"v":63},{"x":44,"y":36.2,"v":60},{"x":47,"y":36.2,"v":60},{"x":50,"y":36.2,"v":56},{"x":53,"y":36.2,"v":53},{"x":56,"y":36.2,"v":67},{"x":59,"y":36.2,"v":56},{"x":62,"y":36.2,"v":63},{"x":65,"y":36.2,"v":63},{"x":68,"y":36.2,"v":63},{"x":71,"y":36.2,"v":63},{"x":74,"y":36.2,"v":63},{"x":77,"y":36.2,"v":63},{"x":80,"y":36.2,"v":67},
{"x":35,"y":35.4,"v":67},{"x":38,"y":35.4,"v":63},{"x":41,"y":35.4,"v":67},{"x":44,"y":35.4,"v":67},{"x":47,"y":35.4,"v":60},{"x":50,"y":35.4,"v":63},{"x":53,"y":35.4,"v":60},{"x":56,"y":35.4,"v":63},{"x":59,"y":35.4,"v":67},{"x":62,"y":35.4,"v":70},{"x":65,"y":35.4,"v":74},{"x":68,"y":35.4,"v":67},{"x":71,"y":35.4,"v":74},{"x":74,"y":35.4,"v":67},{"x":77,"y":35.4,"v":70},{"x":80,"y":35.4,"v":56},
{"x":35,"y":34.6,"v":63},{"x":38,"y":34.6,"v":53},{"x":41,"y":34.6,"v":67},{"x":44,"y":34.6,"v":60},{"x":47,"y":34.6,"v":63},{"x":50,"y":34.6,"v":63},{"x":53,"y":34.6,"v":63},{"x":56,"y":34.6,"v":63},{"x":59,"y":34.6,"v":63},{"x":62,"y":34.6,"v":60},{"x":65,"y":34.6,"v":63},{"x":68,"y":34.6,"v":70},{"x":71,"y":34.6,"v":53},{"x":74,"y":34.6,"v":60},{"x":77,"y":34.6,"v":67},{"x":80,"y":34.6,"v":74},
{"x":35,"y":33.8,"v":63},{"x":38,"y":33.8,"v":60},{"x":41,"y":33.8,"v":60},{"x":44,"y":33.8,"v":63},{"x":47,"y":33.8,"v":60},{"x":50,"y":33.8,"v":74},{"x":53,"y":33.8,"v":63},{"x":56,"y":33.8,"v":70},{"x":59,"y":33.8,"v":60},{"x":62,"y":33.8,"v":67},{"x":65,"y":33.8,"v":63},{"x":68,"y":33.8,"v":63},{"x":71,"y":33.8,"v":67},{"x":74,"y":33.8,"v":70},{"x":77,"y":33.8,"v":70},
{"x":35,"y":33,"v":56},{"x":38,"y":33,"v":60},{"x":41,"y":33,"v":70},{"x":44,"y":33,"v":74},{"x":47,"y":33,"v":67},{"x":50,"y":33,"v":70},{"x":53,"y":33,"v":63},{"x":56,"y":33,"v":74},{"x":59,"y":33,"v":70},{"x":62,"y":33,"v":60},{"x":65,"y":33,"v":74},{"x":68,"y":33,"v":88},{"x":71,"y":33,"v":74},{"x":74,"y":33,"v":70},{"x":77,"y":33,"v":67},
{"x":47,"y":32.2,"v":63},{"x":50,"y":32.2,"v":70},{"x":53,"y":32.2,"v":70},{"x":56,"y":32.2,"v":70},{"x":59,"y":32.2,"v":67}
],"bar":[{"lo":30,"hi":33.5},{"lo":33.5,"hi":37},{"lo":37,"hi":40.5},{"lo":40.5,"hi":44},{"lo":44,"hi":47.5},{"lo":47.5,"hi":51},{"lo":51,"hi":54.5},{"lo":54.5,"hi":58},{"lo":58,"hi":61.5},{"lo":61.5,"hi":65},{"lo":65,"hi":68.5},{"lo":68.5,"hi":72},{"lo":72,"hi":75.5},{"lo":75.5,"hi":79},{"lo":79,"hi":82.5},{"lo":82.5,"hi":86},{"lo":86,"hi":89.5},{"lo":89.5,"hi":93},{"lo":93,"hi":96.5},{"lo":96.5,"hi":100}],"anchor":[{"x":30,"y":30}]},"hconcat":[{"width":732,"height":752,"resolve":{"axis":{"x":"independent","y":"independent"}},"layer":[{"data":{"name":"cells"},"mark":{"type":"rect","strokeWidth":0.5},"encoding":{"x":{"field":"x","type":"quantitative","bin":{"step":3,"extent":[24.5,87.5],"nice":false},"scale":{"domain":[24.5,87.5]},"axis":{"orient":"bottom","values":[30,40,50,60,70,80],"grid":true,"gridColor":"black","gridDash":[1.5,2.5],"gridWidth":1.3,"gridOpacity":1,"tickSize":-18,"labelPadding":23,"labelFontSize":47,"labelFlush":false,"labelOverlap":false,"title":"x, mm","titleFontSize":52,"titleX":733,"titleY":77,"titleAlign":"right","titleBaseline":"alphabetic","zindex":1}},"y":{"field":"y","type":"quantitative","bin":{"step":0.8,"extent":[28.63,88.63],"nice":false},"scale":{"domain":[28.63,88.63]},"axis":{"orient":"left","values":[30,40,50,60,70,80],"grid":true,"gridColor":"black","gridDash":[1.5,2.5],"gridWidth":1.3,"gridOpacity":1,"tickSize":-26,"labelPadding":33,"labelFontSize":47,"labelOverlap":false,"title":"y, mm","titleFontSize":53,"titleX":-70,"titleY":-3,"titleAngle":-90,"titleAlign":"right","titleBaseline":"alphabetic","zindex":1}},"color":{"field":"v","type":"quantitative","legend":null,"scale":{"type":"threshold","domain":[33.5,37,40.5,44,47.5,51,54.5,58,61.5,65,68.5,72,75.5,79,82.5,86,89.5,93,96.5],"range":["#000028","#00004f","#000080","#0000a8","#0000e6","#1e00e8","#3b00e8","#5600dc","#7200c6","#9300ad","#b81e99","#d53785","#e8457a","#eb4485","#ee4488","#ee7b5c","#efb72f","#f2de3c","#f3ea9a","#f3f3ec"]}},"stroke":{"field":"v","type":"quantitative","legend":null,"scale":{"type":"threshold","domain":[33.5,37,40.5,44,47.5,51,54.5,58,61.5,65,68.5,72,75.5,79,82.5,86,89.5,93,96.5],"range":["#000028","#00004f","#000080","#0000a8","#0000e6","#1e00e8","#3b00e8","#5600dc","#7200c6","#9300ad","#b81e99","#d53785","#e8457a","#eb4485","#ee4488","#ee7b5c","#efb72f","#f2de3c","#f3ea9a","#f3f3ec"]}}}},{"data":{"name":"anchor"},"mark":{"type":"point","opacity":0},"encoding":{"x":{"field":"x","type":"quantitative","scale":{"domain":[24.5,87.5]},"axis":{"orient":"top","values":[30,40,50,60,70,80],"labels":false,"tickSize":-18,"title":null,"zindex":1}},"y":{"field":"y","type":"quantitative","scale":{"domain":[28.63,88.63]},"axis":{"orient":"right","values":[30,40,50,60,70,80],"labels":false,"tickSize":-26,"title":null,"zindex":1}}}},{"data":{"name":"anchor"},"mark":{"type":"point","opacity":0},"encoding":{"x":{"field":"x","type":"quantitative","scale":{"domain":[24.5,87.5]},"axis":{"orient":"bottom","values":[26,28,32,34,36,38,42,44,46,48,52,54,56,58,62,64,66,68,72,74,76,78,82,84,86],"labels":false,"tickSize":-9,"title":null,"zindex":1}},"y":{"field":"y","type":"quantitative","scale":{"domain":[28.63,88.63]},"axis":{"orient":"left","values":[32,34,36,38,42,44,46,48,52,54,56,58,62,64,66,68,72,74,76,78,82,84,86,88],"labels":false,"tickSize":-13,"title":null,"zindex":1}}}},{"data":{"name":"anchor"},"mark":{"type":"point","opacity":0},"encoding":{"x":{"field":"x","type":"quantitative","scale":{"domain":[24.5,87.5]},"axis":{"orient":"top","values":[26,28,32,34,36,38,42,44,46,48,52,54,56,58,62,64,66,68,72,74,76,78,82,84,86],"labels":false,"tickSize":-9,"title":null,"zindex":1}},"y":{"field":"y","type":"quantitative","scale":{"domain":[28.63,88.63]},"axis":{"orient":"right","values":[32,34,36,38,42,44,46,48,52,54,56,58,62,64,66,68,72,74,76,78,82,84,86,88],"labels":false,"tickSize":-13,"title":null,"zindex":1}}}}]},{"width":49,"height":751,"view":{"stroke":null},"data":{"name":"bar"},"mark":{"type":"rect","strokeWidth":0.5},"encoding":{"y":{"field":"lo","type":"quantitative","scale":{"domain":[30,100]},"axis":{"orient":"right","domain":true,"domainColor":"black","domainWidth":1.3,"values":[30,40,50,60,70,80,90,100],"tickSize":-25,"labelPadding":24,"labelFontSize":42,"labelOverlap":false,"labelFlush":false,"labelBound":false,"title":"FWHM, ps","titleFontSize":44,"titleAngle":-90,"titleX":115,"titleY":1,"titleAlign":"right","titleBaseline":"alphabetic","zindex":1}},"y2":{"field":"hi"},"color":{"field":"lo","type":"quantitative","legend":null,"scale":{"type":"threshold","domain":[33.5,37,40.5,44,47.5,51,54.5,58,61.5,65,68.5,72,75.5,79,82.5,86,89.5,93,96.5],"range":["#000028","#00004f","#000080","#0000a8","#0000e6","#1e00e8","#3b00e8","#5600dc","#7200c6","#9300ad","#b81e99","#d53785","#e8457a","#eb4485","#ee4488","#ee7b5c","#efb72f","#f2de3c","#f3ea9a","#f3f3ec"]}},"stroke":{"field":"lo","type":"quantitative","legend":null,"scale":{"type":"threshold","domain":[33.5,37,40.5,44,47.5,51,54.5,58,61.5,65,68.5,72,75.5,79,82.5,86,89.5,93,96.5],"range":["#000028","#00004f","#000080","#0000a8","#0000e6","#1e00e8","#3b00e8","#5600dc","#7200c6","#9300ad","#b81e99","#d53785","#e8457a","#eb4485","#ee4488","#ee7b5c","#efb72f","#f2de3c","#f3ea9a","#f3f3ec"]}}}}]}
